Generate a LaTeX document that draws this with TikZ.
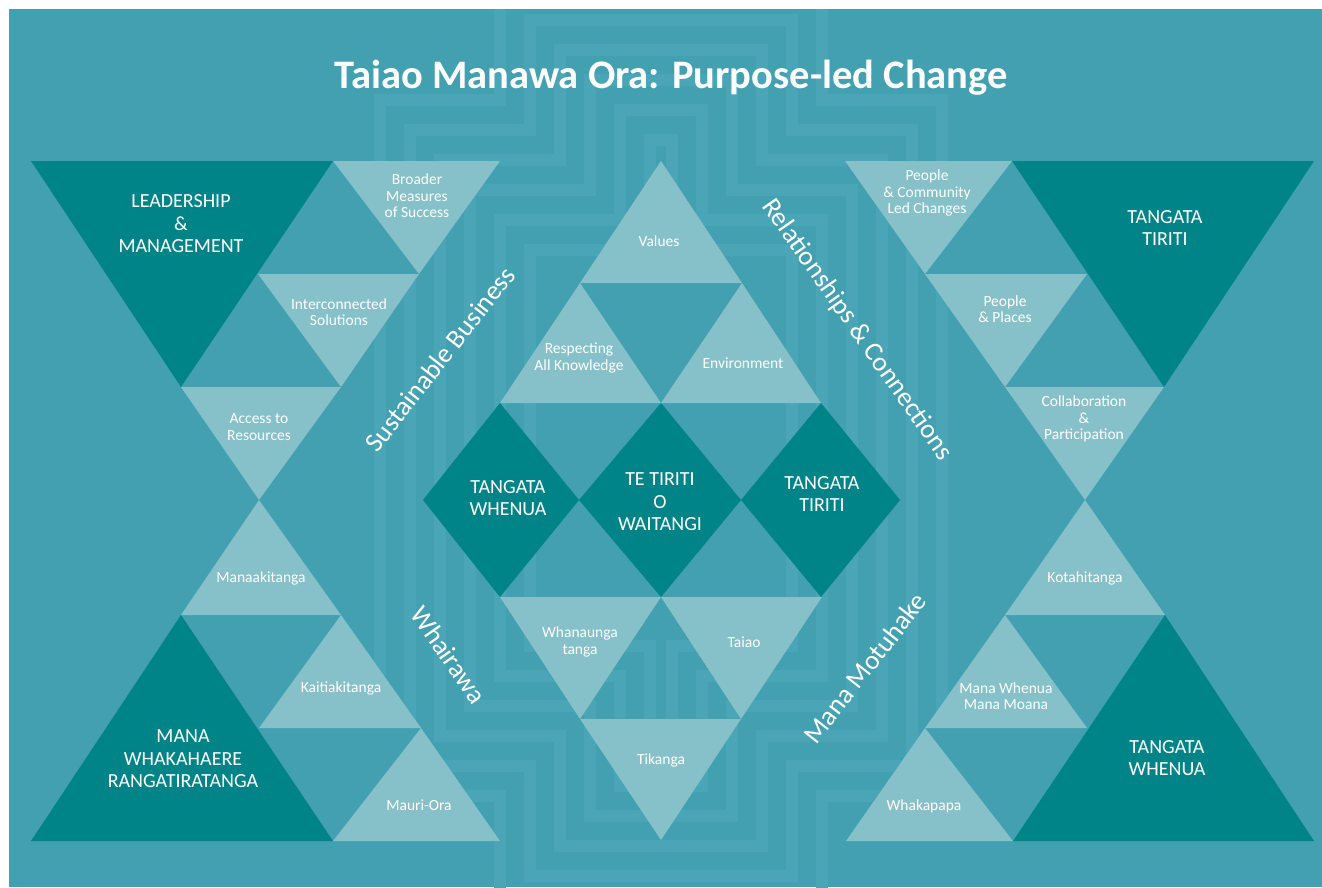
\documentclass[tikz,border=0pt]{standalone}
\usepackage{fontspec}
\setmainfont{Carlito}
\definecolor{bgteal}{HTML}{42A0B0}
\definecolor{darkteal}{HTML}{008487}
\definecolor{lightteal}{HTML}{86C1CA}
\definecolor{mazeteal}{HTML}{4AA6B6}
\begin{document}
\begin{tikzpicture}[x=1pt,y=-1pt,inner sep=0pt,outer sep=0pt,
dark/.style={fill=darkteal},
light/.style={fill=lightteal},
tile/.style={fill=bgteal},
maze/.style={draw=mazeteal,line width=12pt},
bigtxt/.style={text=white,align=center,font=\fontsize{20}{22.5}\selectfont},
smalltxt/.style={text=white,align=center,font=\fontsize{15.5}{16.5}\selectfont},
bandtxt/.style={text=white,font=\fontsize{27}{27}\selectfont}]
\useasboundingbox (0,0) rectangle (1322,887);
\fill[white] (0,0) rectangle (1322,887);
\fill[bgteal] (9,9) rectangle (1322,887);

% maze in the background
\begin{scope}
\clip (9,9) rectangle (1322,887);
\foreach \o in {0,30,...,150}{
  \draw[maze] (500+\o,-10+\o) -- (822-\o,-10+\o) -- (822-\o,100+\o) -- (942-\o,100+\o) -- (942-\o,796-\o)
    -- (822-\o,796-\o) -- (822-\o,906-\o) -- (500+\o,906-\o) -- (500+\o,796-\o) -- (380+\o,796-\o)
    -- (380+\o,100+\o) -- (500+\o,100+\o) -- cycle;
}
\end{scope}

\draw (671,88) node[anchor=base,text=white,font=\bfseries\fontsize{40.5}{40}\selectfont] (title) {Taiao Manawa Ora: Purpose-led Change};

% left side
\fill[tile] (31,161) -- (500,161) -- (259,500) -- cycle;
\fill[tile] (31,841) -- (500,841) -- (259,500) -- cycle;
\fill[dark] (31,161) -- (333,161) -- (181,387) -- cycle;
\fill[light] (333,161) -- (500,161) -- (419,274) -- cycle;
\fill[light] (258,274) -- (419,274) -- (341,387) -- cycle;
\fill[light] (181,387) -- (341,387) -- (259,500) -- cycle;
\fill[light] (259,500) -- (341,615) -- (181,615) -- cycle;
\fill[light] (341,615) -- (421,728) -- (259,728) -- cycle;
\fill[light] (421,728) -- (500,841) -- (333,841) -- cycle;
\fill[dark] (181,615) -- (333,841) -- (31,841) -- cycle;

% right side
\fill[tile] (845,161) -- (1314,161) -- (1085,500) -- cycle;
\fill[tile] (845,841) -- (1314,841) -- (1085,500) -- cycle;
\fill[light] (845,161) -- (1012,161) -- (925,274) -- cycle;
\fill[light] (925,274) -- (1087,274) -- (1005,387) -- cycle;
\fill[light] (1005,387) -- (1164,387) -- (1085,500) -- cycle;
\fill[dark] (1012,161) -- (1314,161) -- (1164,387) -- cycle;
\fill[light] (1085,500) -- (1165,615) -- (1005,615) -- cycle;
\fill[light] (1005,615) -- (1087,728) -- (925,728) -- cycle;
\fill[light] (925,728) -- (1013,841) -- (846,841) -- cycle;
\fill[dark] (1165,615) -- (1314,841) -- (1013,841) -- cycle;

% centre
\fill[light] (661,161) -- (742,283) -- (580,283) -- cycle;
\fill[light] (580,283) -- (661,403) -- (500,403) -- cycle;
\fill[light] (742,283) -- (821,403) -- (661,403) -- cycle;
\fill[dark] (500,403) -- (579,500) -- (500,597) -- (423,500) -- cycle;
\fill[dark] (661,403) -- (741,500) -- (661,597) -- (579,500) -- cycle;
\fill[dark] (821,403) -- (900,500) -- (821,597) -- (741,500) -- cycle;
\fill[light] (500,597) -- (661,597) -- (580,719) -- cycle;
\fill[light] (661,597) -- (822,597) -- (741,719) -- cycle;
\fill[light] (580,719) -- (741,719) -- (661,840) -- cycle;

% labels
\draw (181,224) node[bigtxt] (leader) {LEADERSHIP\\\&\\MANAGEMENT};
\draw (417,196) node[smalltxt] (broader) {Broader\\Measures\\of Success};
\draw (339,312) node[smalltxt] (intercon) {Interconnected\\Solutions};
\draw (259,427) node[smalltxt] (access) {Access to\\Resources};
\draw (261,578) node[smalltxt] (manaaki) {Manaakitanga};
\draw (341,688) node[smalltxt] (kaitiaki) {Kaitiakitanga};
\draw (419,805) node[smalltxt] (mauri) {Mauri-Ora};
\draw (183,759) node[bigtxt] (manawh) {MANA\\WHAKAHAERE\\RANGATIRATANGA};

\draw (659,241) node[smalltxt] (values) {Values};
\draw (579,358) node[smalltxt] (respect) {Respecting\\All Knowledge};
\draw (743,363) node[smalltxt] (environ) {Environment};
\draw (508,498) node[bigtxt] (twdiam) {TANGATA\\WHENUA};
\draw (660,502) node[bigtxt] (tetiriti) {TE TIRITI\\O\\WAITANGI};
\draw (822,494) node[bigtxt] (ttdiam) {TANGATA\\TIRITI};
\draw (580,642) node[smalltxt] (whanau) {Whanaunga\\tanga};
\draw (744,642) node[smalltxt] (taiao) {Taiao};
\draw (661,760) node[smalltxt] (tikanga) {Tikanga};

\draw (927,193) node[smalltxt] (pplcom) {People\\\& Community\\Led Changes};
\draw (1165,228) node[bigtxt] (ttbig) {TANGATA\\TIRITI};
\draw (1005,309) node[smalltxt] (pplplace) {People\\\& Places};
\draw (1084,419) node[smalltxt] (collab) {Collaboration\\\&\\Participation};
\draw (1085,578) node[smalltxt] (kotahi) {Kotahitanga};
\draw (1006,696) node[smalltxt] (manawhen) {Mana Whenua\\Mana Moana};
\draw (924,806) node[smalltxt] (whakapapa) {Whakapapa};
\draw (1167,758) node[bigtxt] (twbig) {TANGATA\\WHENUA};

% band labels
\draw (440,359) node[bandtxt,rotate=52] (sustain) {Sustainable Business};
\draw (857,330) node[bandtxt,rotate=-55] (relation) {Relationships \& Connections};
\draw (449,655) node[bandtxt,rotate=-55] (whairawa) {Whairawa};
\draw (865,668) node[bandtxt,rotate=52] (motuhake) {Mana Motuhake};
\end{tikzpicture}
\end{document}
